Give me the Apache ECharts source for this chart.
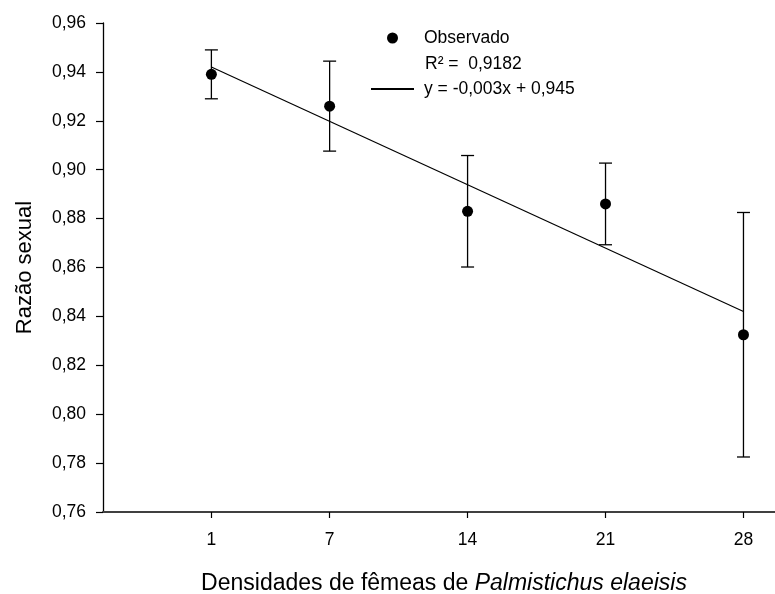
<!DOCTYPE html>
<html>
<head>
<meta charset="utf-8">
<script src="https://cdn.jsdelivr.net/npm/echarts@6/dist/echarts.min.js"></script>
<style>
  html, body { margin: 0; padding: 0; background: #fff; }
  #chart { width: 775px; height: 594px; }
</style>
</head>
<body>
<div id="chart"></div>
<script>
// ---- data ----
const densities = [1, 7, 14, 21, 28];
const meanRatio = [0.939, 0.926, 0.883, 0.886, 0.8325];
const errRatio  = [0.010, 0.0184, 0.0228, 0.0167, 0.050];
const regX = [1, 28];
const regY = [0.942, 0.842];
const xTicks = [1, 7, 14, 21, 28];
const yTicks = [0.76, 0.78, 0.80, 0.82, 0.84, 0.86, 0.88, 0.90, 0.92, 0.94, 0.96];
const legendObs = 'Observado';
const legendFit = 'y = -0,003x + 0,945';
const r2Text = 'R² =  0,9182';

const FONT = '"Liberation Sans", Arial, sans-serif';

const obsData = densities.map((d, i) => [d, meanRatio[i]]);
const errData = densities.map((d, i) => [d, meanRatio[i] - errRatio[i], meanRatio[i] + errRatio[i]]);
const fitData = regX.map((x, i) => [x, regY[i]]);

const chart = echarts.init(document.getElementById('chart'));
chart.setOption({
  animation: false,
  backgroundColor: '#ffffff',
  textStyle: { fontFamily: FONT, color: '#000' },
  grid: { left: 103, right: 0, top: 23, bottom: 82, containLabel: false, outerBoundsMode: 'none' },
  legend: {
    orient: 'vertical',
    left: 370,
    top: 28,
    padding: 0,
    itemWidth: 43,
    itemHeight: 11,
    itemGap: 31,
    selectedMode: false,
    textStyle: { fontFamily: FONT, fontSize: 17.5, color: '#000', lineHeight: 20, padding: [0, 0, 0, 5] },
    data: [
      { name: legendObs, icon: 'circle', itemStyle: { color: '#000', opacity: 1 } },
      { name: legendFit, itemStyle: { color: 'rgba(0,0,0,0)', borderColor: 'rgba(0,0,0,0)', borderWidth: 0, opacity: 0 } }
    ]
  },
  graphic: [{
    type: 'text',
    left: 425,
    top: 55,
    style: { text: r2Text, font: '17.5px ' + FONT, fill: '#000' }
  }],
  xAxis: {
    type: 'value',
    min: -4.5,
    max: 29.6,
    splitLine: { show: false },
    axisLine: { show: true, onZero: false, lineStyle: { color: '#404040', width: 2 } },
    axisTick: { show: true, length: 6, customValues: xTicks, lineStyle: { color: '#000', width: 1.2 } },
    axisLabel: { customValues: xTicks, fontSize: 17.5, color: '#000', margin: 19, fontFamily: FONT },
    name: 'Densidades de fêmeas de {i|Palmistichus elaeisis}',
    nameLocation: 'middle',
    nameGap: 60,
    nameTextStyle: {
      fontSize: 23, color: '#000', fontFamily: FONT, padding: [0, 0, 0, 10],
      rich: { i: { fontStyle: 'italic', fontSize: 23, fontFamily: FONT, color: '#000' } }
    }
  },
  yAxis: {
    type: 'value',
    min: 0.76,
    max: 0.96,
    interval: 0.02,
    splitLine: { show: false },
    axisLine: { show: true, onZero: false, lineStyle: { color: '#000', width: 1.3 } },
    axisTick: { show: true, length: 7, customValues: yTicks, lineStyle: { color: '#000', width: 1.2 } },
    axisLabel: {
      customValues: yTicks,
      fontSize: 17.5, color: '#000', margin: 17, fontFamily: FONT,
      formatter: v => v.toFixed(2).replace('.', ',')
    },
    name: 'Razão sexual',
    nameLocation: 'middle',
    nameGap: 67,
    nameRotate: 90,
    nameTextStyle: { fontSize: 22, color: '#000', fontFamily: FONT }
  },
  series: [
    {
      name: 'errorbars',
      type: 'custom',
      silent: true,
      z: 2,
      renderItem: function (params, api) {
        const x = api.value(0);
        const lo = api.coord([x, api.value(1)]);
        const hi = api.coord([x, api.value(2)]);
        const hw = 6.5;
        const st = { stroke: '#000', lineWidth: 1.3 };
        return {
          type: 'group',
          children: [
            { type: 'line', shape: { x1: lo[0], y1: lo[1], x2: hi[0], y2: hi[1] }, style: st },
            { type: 'line', shape: { x1: lo[0] - hw, y1: lo[1], x2: lo[0] + hw, y2: lo[1] }, style: st },
            { type: 'line', shape: { x1: hi[0] - hw, y1: hi[1], x2: hi[0] + hw, y2: hi[1] }, style: st }
          ]
        };
      },
      encode: { x: 0, y: [1, 2] },
      data: errData
    },
    {
      name: legendFit,
      type: 'line',
      symbol: 'none',
      z: 3,
      lineStyle: { color: '#000', width: 1.2 },
      itemStyle: { color: '#000' },
      data: fitData
    },
    {
      name: legendObs,
      type: 'scatter',
      symbol: 'circle',
      symbolSize: 11,
      z: 4,
      itemStyle: { color: '#000', opacity: 1 },
      data: obsData
    }
  ]
});
</script>
</body>
</html>
